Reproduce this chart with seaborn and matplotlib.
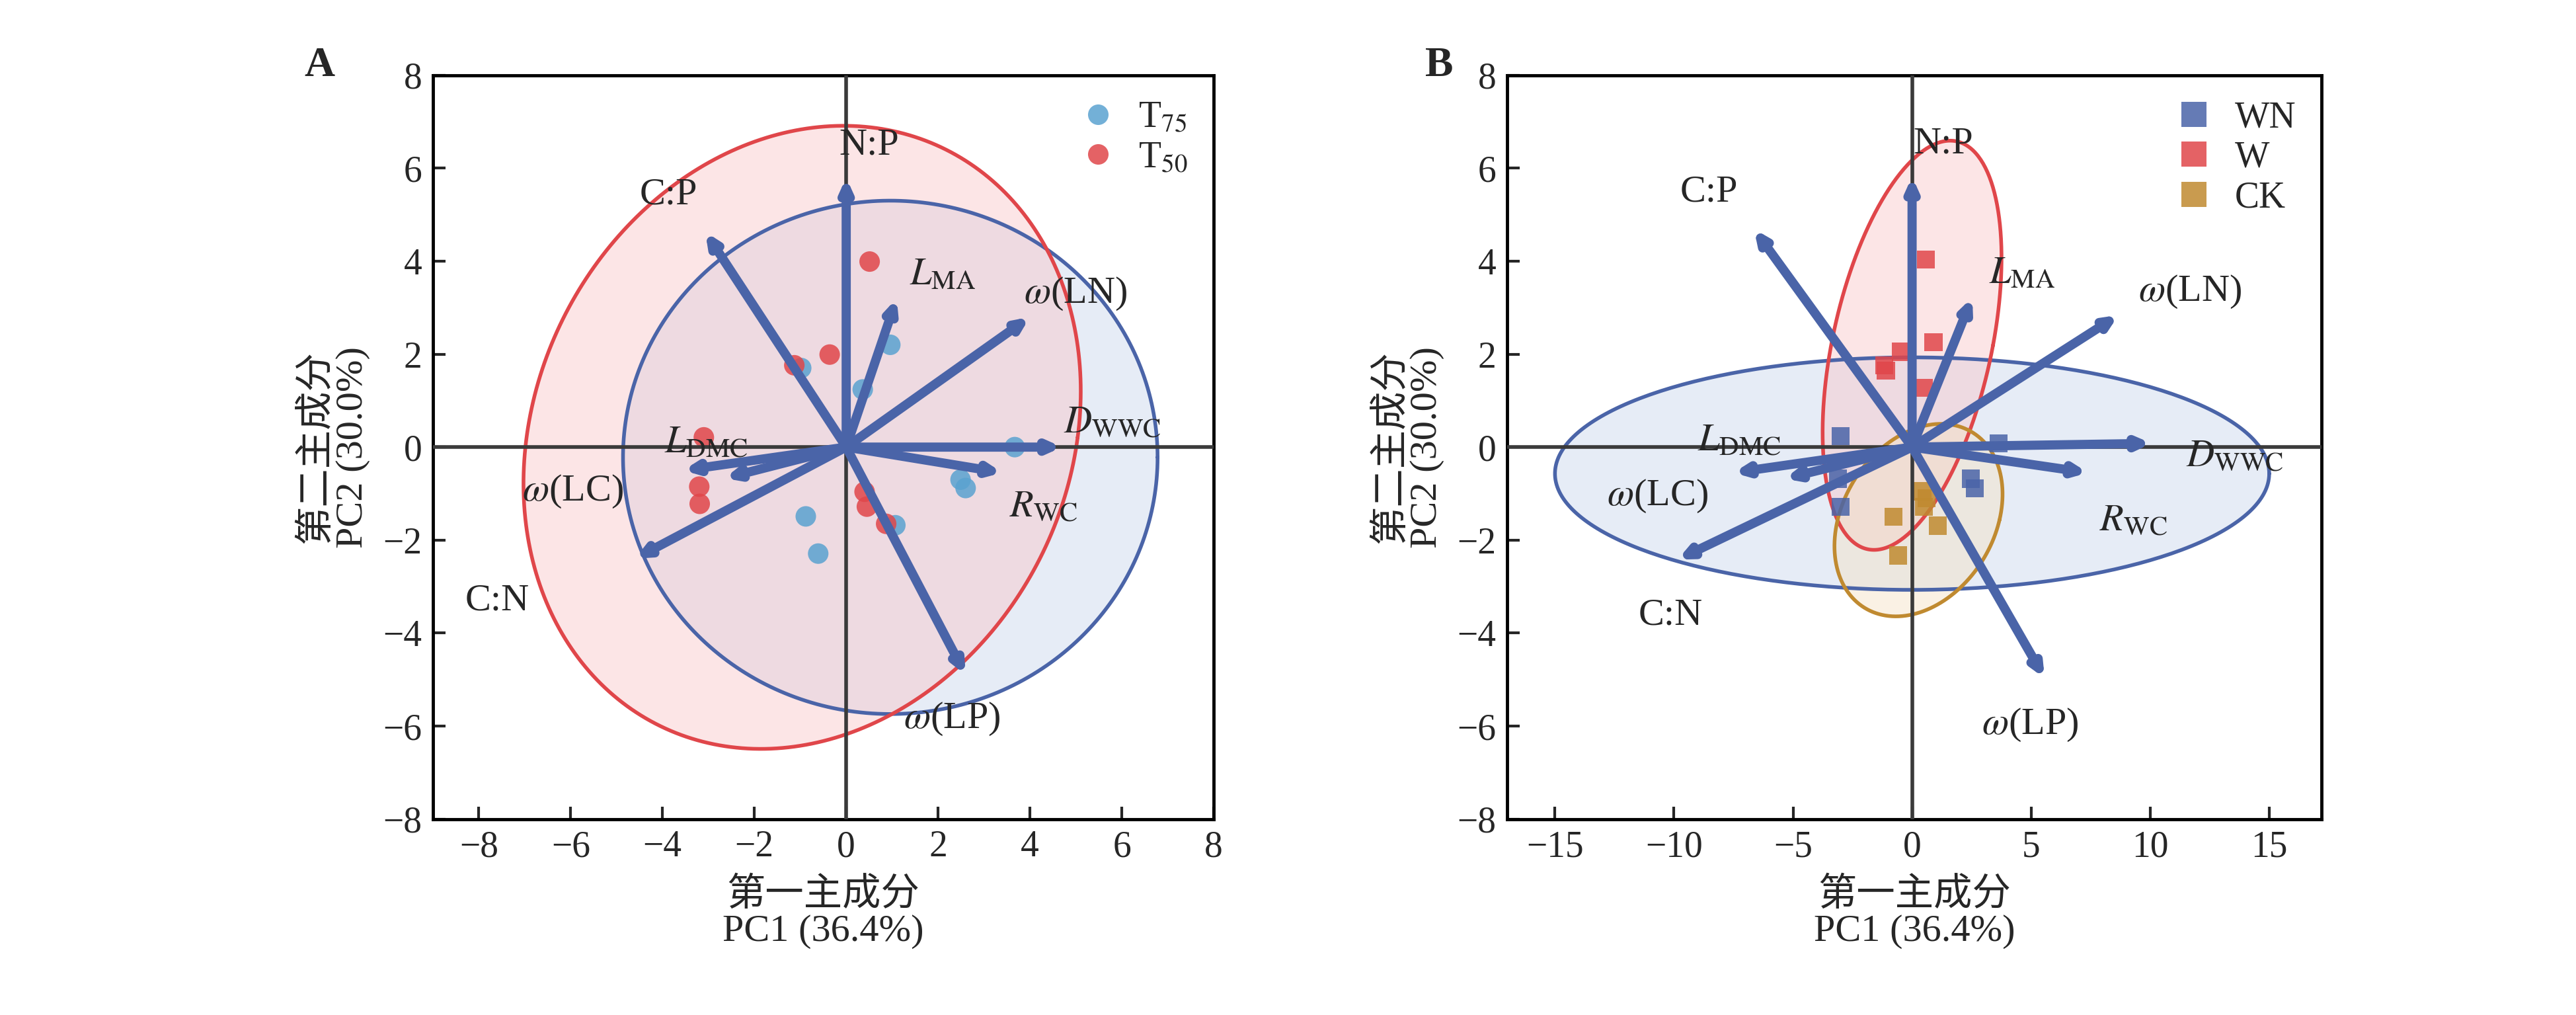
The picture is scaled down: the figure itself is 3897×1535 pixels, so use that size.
import numpy as np
import pandas as pd
import matplotlib
matplotlib.use('Agg')
import matplotlib.pyplot as plt
import seaborn as sns

sns.set_style('white')
plt.rcParams['font.family'] = ['Liberation Serif', 'Noto Sans CJK SC']
plt.rcParams['mathtext.fontset'] = 'stix'

# variable loadings (arrow tips)
var_labels = ['N:P', 'C:P', r'$L_{\rm MA}$', r'$\omega$(LN)', r'$D_{\rm WWC}$',
              r'$R_{\rm WC}$', r'$\omega$(LP)', 'C:N', r'$\omega$(LC)', r'$L_{\rm DMC}$']
a_x = [0.0, -3.07, 1.1, 4.0, 4.7, 3.4, 2.6, -4.6, -3.55, -2.65]
a_y = [5.8, 4.63, 3.2, 2.8, 0.0, -0.55, -4.9, -2.4, -0.5, -0.67]
b_x = [0.0, -6.64, 2.53, 8.67, 10.06, 7.39, 5.57, -9.85, -7.5, -5.35]
b_y = [5.82, 4.69, 3.22, 2.84, 0.08, -0.55, -4.97, -2.42, -0.55, -0.68]

# sample scores, panel A
t75_x = [0.96, -0.98, 0.36, 3.67, 2.49, 2.6, 1.07, -0.88, -0.61]
t75_y = [2.2, 1.7, 1.24, 0.0, -0.7, -0.88, -1.68, -1.49, -2.29]
t50_x = [0.51, -0.36, -1.13, -3.1, -3.19, -3.2, 0.4, 0.45, 0.87]
t50_y = [3.99, 1.99, 1.76, 0.21, -1.22, -0.85, -0.96, -1.28, -1.65]

# sample scores, panel B
wn_x = [-3.0, 3.64, 2.46, 2.63, -3.1, -3.0]
wn_y = [0.24, 0.08, -0.68, -0.88, -0.68, -1.28]
w_x = [0.58, 0.9, -0.47, -1.18, 0.49, -1.1]
w_y = [4.03, 2.25, 2.05, 1.76, 1.27, 1.65]
ck_x = [0.43, 0.49, -0.79, 1.07, -0.58, 0.6]
ck_y = [-0.95, -1.28, -1.5, -1.69, -2.33, -1.1]

blue = '#4a64a8'
lblue = '#5aa2d0'
red = '#e0464a'
gold = '#c08a30'

# label offsets (data units) for each panel
a_off = [(0.5, 0.7), (-0.8, 0.8), (1.0, 0.5), (1.0, 0.5), (1.1, 0.5),
         (0.9, -0.75), (-0.3, -0.95), (-3.0, -0.9), (-2.4, -0.45), (-0.4, 0.75)]
b_off = [(1.3, 0.7), (-1.9, 0.8), (2.1, 0.5), (3.0, 0.5), (3.5, -0.3),
         (1.9, -1.05), (-0.6, -1.0), (-0.3, -1.2), (-3.2, -0.5), (-1.9, 0.8)]


def ell(ax, cx, cy, u, v, ec, fc):
    t = np.linspace(0, 2 * np.pi, 300)
    x = cx + u[0] * np.cos(t) + v[0] * np.sin(t)
    y = cy + u[1] * np.cos(t) + v[1] * np.sin(t)
    ax.fill(x, y, color=fc, alpha=0.45, lw=0, zorder=1)
    ax.plot(x, y, color=ec, lw=4, zorder=2)


def arrows(ax, xs, ys, offs):
    for lab, x, y, (dx, dy) in zip(var_labels, xs, ys, offs):
        ax.annotate('', xy=(x, y), xytext=(0, 0),
                    arrowprops=dict(arrowstyle='-|>,head_length=1.0,head_width=0.45',
                                    color=blue, lw=10, shrinkA=0, shrinkB=0), zorder=4)
        ax.text(x + dx, y + dy, lab, fontsize=42, ha='center', va='center', zorder=5)


def style(ax, xlim, xticks):
    ax.set_xlim(*xlim)
    ax.set_ylim(-8, 8)
    ax.set_xticks(xticks)
    ax.set_yticks(range(-8, 9, 2))
    ax.axhline(0, color='#3a3a3a', lw=4, zorder=3)
    ax.axvline(0, color='#3a3a3a', lw=4, zorder=3)
    for s in ax.spines.values():
        s.set_linewidth(3.5)
        s.set_color('black')
    ax.tick_params(direction='in', length=14, width=3, labelsize=40,
                   bottom=True, left=True, pad=12)
    ax.set_xlabel('第一主成分\nPC1 (36.4%)', fontsize=42, labelpad=14, linespacing=1.05)
    ax.set_ylabel('第二主成分\nPC2 (30.0%)', fontsize=42, labelpad=14, linespacing=1.05)


fig = plt.figure(figsize=(38.98, 15.35), dpi=100)
axA = fig.add_axes([0.168, 0.193, 0.303, 0.733])
axB = fig.add_axes([0.585, 0.193, 0.316, 0.733])

# panel A
ell(axA, 0.96, -0.22, (5.82, 0), (0, 5.52), blue, '#c9d6ec')
ell(axA, -0.96, 0.21, (6.0, 0), (0.9, 6.7), red, '#f9c6c8')
dfA = pd.DataFrame({'x': t75_x + t50_x, 'y': t75_y + t50_y,
                    'g': ['T$_{75}$'] * len(t75_x) + ['T$_{50}$'] * len(t50_x)})
sns.scatterplot(data=dfA, x='x', y='y', hue='g', palette=[lblue, red], s=500,
                edgecolor='none', alpha=0.85, ax=axA, zorder=3)
arrows(axA, a_x, a_y, a_off)
style(axA, (-9, 8), range(-8, 9, 2))
axA.legend(loc='upper right', fontsize=40, frameon=False, handletextpad=0.1,
           borderaxespad=0.3, labelspacing=0.15)

# panel B
ell(axB, 0.0, -0.57, (15.0, 0), (0, 2.5), blue, '#c9d6ec')
ell(axB, 0.0, 2.19, (3.4, 0), (1.6, 4.4), red, '#f9c6c8')
ell(axB, 0.27, -1.57, (3.4, 0), (0.95, 2.07), gold, '#f4e2c4')
dfB = pd.DataFrame({'x': wn_x + w_x + ck_x, 'y': wn_y + w_y + ck_y,
                    'g': ['WN'] * len(wn_x) + ['W'] * len(w_x) + ['CK'] * len(ck_x)})
sns.scatterplot(data=dfB, x='x', y='y', hue='g', palette=[blue, red, gold], marker='s',
                s=380, edgecolor='none', alpha=0.85, ax=axB, zorder=3)
arrows(axB, b_x, b_y, b_off)
style(axB, (-17, 17.2), range(-15, 16, 5))
axB.legend(loc='upper right', fontsize=40, frameon=False, handletextpad=0.1,
           borderaxespad=0.3, labelspacing=0.15, markerscale=1.4)

fig.text(0.118, 0.925, 'A', fontsize=46, fontweight='bold')
fig.text(0.553, 0.925, 'B', fontsize=46, fontweight='bold')

fig.savefig('out.png', dpi=100)
